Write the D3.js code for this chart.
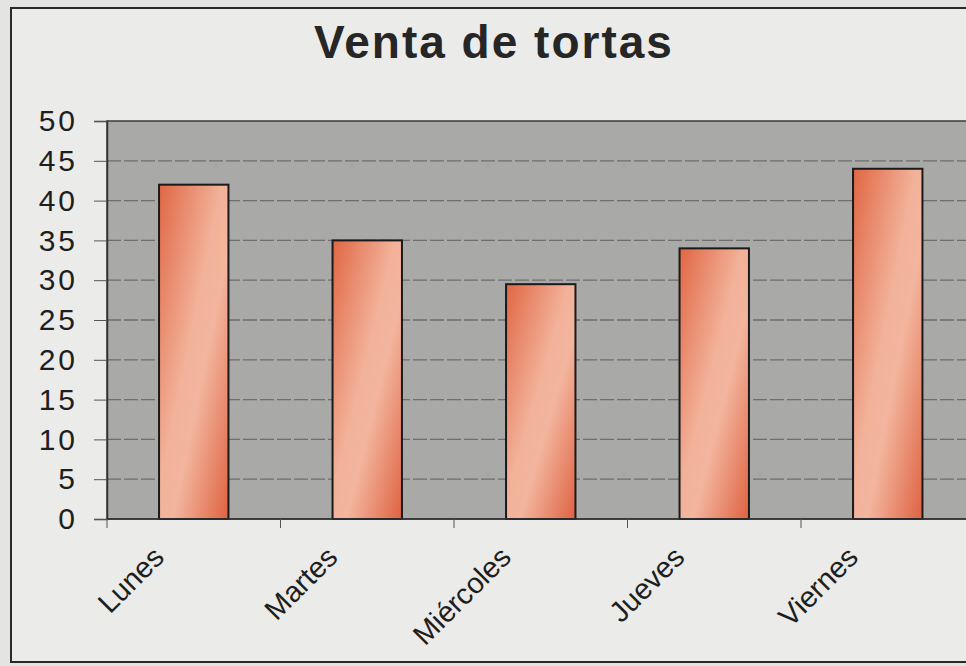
<!doctype html>
<html lang="es">
<head>
  <meta charset="utf-8">
  <title>Venta de tortas</title>
  <script src="https://d3js.org/d3.v7.min.js"></script>
  <style>
    body { margin: 0; background: #e4e4e2; }
    text { font-family: "Liberation Sans", Arial, sans-serif; fill: #1e1e1e; }
  </style>
</head>
<body>
  <div id="chart"></div>
<script>
  var dias = ["Lunes", "Martes", "Miércoles", "Jueves", "Viernes"];
  var ventas = [42, 35, 29.5, 34, 44];
  var y_ticks = [0, 5, 10, 15, 20, 25, 30, 35, 40, 45, 50];

  var width = 966, height = 666;
  var left = 107, top_ = 121, bottom = 519;
  var step = 173.5;

  var svg = d3.select('#chart').append('svg')
    .attr('width', width)
    .attr('height', height);

  // bar gradient
  var grad = svg.append('defs').append('linearGradient')
    .attr('id', 'barfill')
    .attr('x1', '0%').attr('y1', '0%')
    .attr('x2', '100%').attr('y2', '100%');
  grad.append('stop').attr('offset', '0%').attr('stop-color', '#e06643');
  grad.append('stop').attr('offset', '45%').attr('stop-color', '#f2b199');
  grad.append('stop').attr('offset', '60%').attr('stop-color', '#f3b59e');
  grad.append('stop').attr('offset', '100%').attr('stop-color', '#de6240');

  // outer frame
  svg.append('rect')
    .attr('x', 11).attr('y', 8)
    .attr('width', width).attr('height', 654)
    .style('fill', '#ebebea')
    .style('stroke', '#2a2a2a')
    .style('stroke-width', 2);

  var x = d3.scaleBand()
    .domain(dias)
    .range([left, left + step * dias.length])
    .paddingInner(0.6)
    .paddingOuter(0.3);

  var y = d3.scaleLinear()
    .domain([0, 50])
    .range([bottom, top_]);

  // plot area
  svg.append('rect')
    .attr('x', left).attr('y', top_)
    .attr('width', step * dias.length).attr('height', bottom - top_)
    .style('fill', '#a9a9a8')
    .style('stroke', '#3a3a3a')
    .style('stroke-width', 1.5);

  // gridlines
  svg.append('g')
    .selectAll('line')
    .data(y_ticks.slice(1, -1))
    .enter().append('line')
      .attr('x1', left).attr('x2', left + step * dias.length)
      .attr('y1', d => y(d)).attr('y2', d => y(d))
      .style('stroke', '#6e6e6e')
      .style('stroke-width', 1.3)
      .style('stroke-dasharray', '14,3');

  // bars
  svg.append('g')
    .selectAll('rect')
    .data(ventas)
    .enter().append('rect')
      .attr('x', (d, i) => x(dias[i]))
      .attr('y', d => y(d))
      .attr('width', x.bandwidth())
      .attr('height', d => bottom - y(d))
      .style('fill', 'url(#barfill)')
      .style('stroke', '#1a1a1a')
      .style('stroke-width', 2);

  // y axis
  var yAxis = svg.append('g')
    .attr('transform', 'translate(' + left + ',0)')
    .call(d3.axisLeft(y).tickValues(y_ticks).tickSize(13).tickPadding(16));
  yAxis.select('.domain').style('stroke', '#333').style('stroke-width', 1.5);
  yAxis.selectAll('.tick line').style('stroke', '#555');
  yAxis.selectAll('text')
    .style('font-size', '30px')
    .style('letter-spacing', '3px')
    .style('fill', '#1e1e1e');

  // x axis: ticks on band boundaries
  var xAxis = svg.append('g')
    .attr('transform', 'translate(0,' + bottom + ')');
  xAxis.append('line')
    .attr('x1', left).attr('x2', left + step * dias.length)
    .style('stroke', '#333').style('stroke-width', 1.5);
  xAxis.selectAll('line.tk')
    .data(d3.range(dias.length + 1))
    .enter().append('line')
      .attr('class', 'tk')
      .attr('x1', i => left + i * step).attr('x2', i => left + i * step)
      .attr('y1', 0).attr('y2', 9)
      .style('stroke', '#555');
  xAxis.selectAll('text')
    .data(dias)
    .enter().append('text')
      .attr('transform', d => 'translate(' + (x(d) + x.bandwidth() / 2 - 28) + ',' + 40 + ') rotate(-45)')
      .attr('text-anchor', 'end')
      .style('font-size', '29px')
      .text(d => d);

  // title
  svg.append('text')
    .attr('x', 494).attr('y', 58)
    .attr('text-anchor', 'middle')
    .style('font-size', '46px')
    .style('font-weight', 'bold')
    .style('letter-spacing', '2px')
    .style('fill', '#262626')
    .text('Venta de tortas');
</script>
</body>
</html>
